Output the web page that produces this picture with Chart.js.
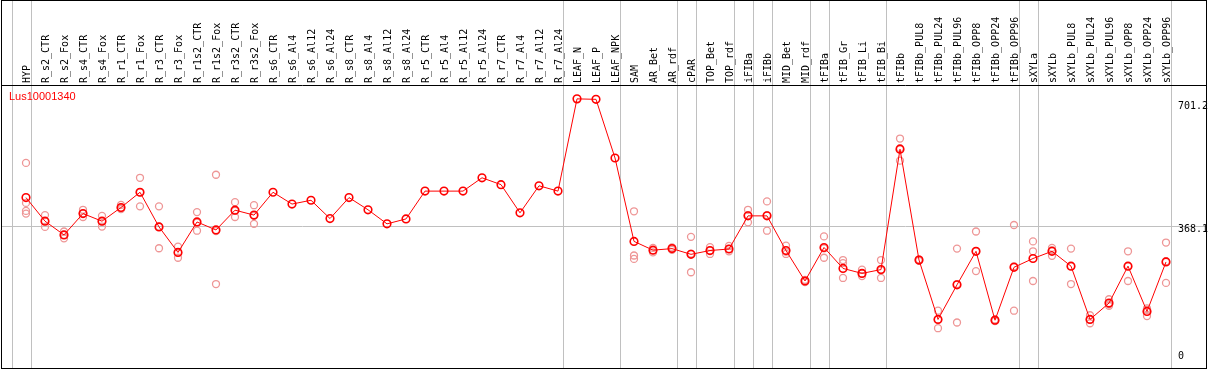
<!DOCTYPE html>
<html>
<head>
<meta charset="utf-8">
<script src="https://cdn.jsdelivr.net/npm/chart.js@4.4.1/dist/chart.umd.min.js"></script>
<style>
    html, body { margin: 0; padding: 0; background: #fff; overflow: hidden; }
    #contenedor { position: relative; width: 1209px; height: 370px; }
</style>
</head>
<body>
<div id="contenedor"><canvas id="lineChart"></canvas></div>
<script>
// Muestras (eje X)
const muestras = ['HYP', 'R_s2_CTR', 'R_s2_Fox', 'R_s4_CTR', 'R_s4_Fox', 'R_r1_CTR', 'R_r1_Fox', 'R_r3_CTR', 'R_r3_Fox',
    'R_r1s2_CTR', 'R_r1s2_Fox', 'R_r3s2_CTR', 'R_r3s2_Fox', 'R_s6_CTR', 'R_s6_Al4', 'R_s6_Al12', 'R_s6_Al24',
    'R_s8_CTR', 'R_s8_Al4', 'R_s8_Al12', 'R_s8_Al24', 'R_r5_CTR', 'R_r5_Al4', 'R_r5_Al12', 'R_r5_Al24',
    'R_r7_CTR', 'R_r7_Al4', 'R_r7_Al12', 'R_r7_Al24', 'LEAF_N', 'LEAF_P', 'LEAF_NPK', 'SAM', 'AR_Bet', 'AR_rdf',
    'cPAR', 'TOP_Bet', 'TOP_rdf', 'iFIBa', 'iFIBb', 'MID_Bet', 'MID_rdf', 'tFIBa', 'tFIB_Gr', 'tFIB_Li', 'tFIB_Bi',
    'tFIBb', 'tFIBb_PUL8', 'tFIBb_PUL24', 'tFIBb_PUL96', 'tFIBb_OPP8', 'tFIBb_OPP24', 'tFIBb_OPP96',
    'sXYLa', 'sXYLb', 'sXYLb_PUL8', 'sXYLb_PUL24', 'sXYLb_PUL96', 'sXYLb_OPP8', 'sXYLb_OPP24', 'sXYLb_OPP96'];

// Promedio de expresion
const promedio = [442, 380, 344, 400, 380, 416, 456, 365, 298, 378, 357, 409, 396, 456, 425, 435, 387,
    442, 410, 373, 386, 459, 459, 459, 494, 476, 402, 473, 459, 701.2, 700, 546, 327, 304, 308,
    293, 303, 307, 394, 394, 303, 223, 311, 256, 243, 253, 569, 278, 122, 213, 301, 120, 259,
    282, 301, 262, 122, 165, 262, 143, 273];

// Replicas
const replica1 = [533, 396, 353, 410, 394, 423, 494, 419, 313, 404, 502, 430, 422, null, null, null, null,
    null, null, null, null, null, null, null, null, null, null, null, null, null, null, null, 406, 310, 311,
    339, 312, 315, 410, 432, 316, 226, 340, 278, 253, 278, 597, 280, 145, 308, 353, 122, 370,
    327, 310, 308, 133, 175, 301, 151, 324];
const replica2 = [407, 380, 344, 400, 380, 414, 456, 366, 298, 376, 354, 407, 394, null, null, null, null,
    null, null, null, null, null, null, null, null, null, null, null, null, null, null, null, 290, 304, 308,
    295, 303, 307, 396, 396, 300, 223, 309, 270, 243, 251, 572, 278, 122, 215, 301, 120, 262,
    301, 304, 262, 122, 162, 262, 147, 275];
const replica3 = [400, 365, 335, 391, 366, 412, 419, 309, 284, 355, 215, 391, 373, null, null, null, null,
    null, null, null, null, null, null, null, null, null, null, null, null, null, null, null, 281, 298, 305,
    246, 294, 301, 377, 355, 294, 220, 284, 231, 236, 231, 539, 276, 99, 114, 249, 118, 145,
    223, 289, 215, 112, 158, 223, 131, 218];
const replica4 = [428];

// Indices de la ultima muestra de cada grupo (lineas grises)
const finDeGrupo = [-1, 0, 28, 31, 34, 35, 37, 38, 39, 41, 42, 45, 52, 53, 60];
// Marcas del eje derecho
const marcasY = [0, 368.1, 701.2];
const nombreGen = 'Lus10001340';

// Lineas grises, marco negro y textos
const marcoPlugin = {
    id: 'marco',
    beforeDatasetsDraw(chart) {
        const ctx = chart.ctx;
        const x = chart.scales.x;
        const y = chart.scales.y;
        ctx.save();
        ctx.strokeStyle = '#c0c0c0';
        ctx.lineWidth = 1;
        finDeGrupo.forEach(i => {
            const px = Math.round(x.getPixelForValue(0) + 19 * i + 4.5) + 0.5;
            ctx.beginPath();
            ctx.moveTo(px, 0);
            ctx.lineTo(px, 369);
            ctx.stroke();
        });
        const py = Math.round(y.getPixelForValue(368.1)) + 0.5;
        ctx.beginPath();
        ctx.moveTo(1, py);
        ctx.lineTo(1207, py);
        ctx.stroke();
        ctx.restore();
    },
    afterDraw(chart) {
        const ctx = chart.ctx;
        const y = chart.scales.y;
        ctx.save();
        ctx.strokeStyle = '#000';
        ctx.lineWidth = 1;
        ctx.strokeRect(1.5, 0.5, 1205, 368);
        ctx.beginPath();
        ctx.moveTo(1, 85.5);
        ctx.lineTo(1207, 85.5);
        ctx.stroke();

        ctx.fillStyle = '#000';
        ctx.font = '10px "DejaVu Sans Mono"';
        ctx.textBaseline = 'middle';
        ctx.textAlign = 'left';
        marcasY.forEach(v => {
            let py = y.getPixelForValue(v) + 4;
            if (v === 701.2) py += 4;
            py = Math.min(py, chart.chartArea.bottom - 8);
            ctx.fillText(String(v), 1178, py);
        });

        ctx.fillStyle = '#ff0000';
        ctx.font = '11px "Liberation Sans"';
        ctx.fillText(nombreGen, 9, 97);
        ctx.restore();
    }
};

const colorReplica = 'rgb(238, 150, 150)';
function datosReplica(arr, nombre) {
    return {
        label: nombre,
        data: arr,
        showLine: false,
        borderColor: colorReplica,
        backgroundColor: 'rgba(0,0,0,0)',
        pointRadius: 3.5,
        pointBorderWidth: 1.3,
        order: 2
    };
}

const canvas = document.getElementById('lineChart');
new Chart(canvas, {
    type: 'line',
    data: {
        labels: muestras,
        datasets: [
            {
                label: nombreGen,
                data: promedio,
                borderColor: '#ff0000',
                backgroundColor: 'rgba(0,0,0,0)',
                borderWidth: 1,
                pointRadius: 3.8,
                pointBorderWidth: 1.6,
                tension: 0,
                order: 1
            },
            datosReplica(replica1, 'rep1'),
            datosReplica(replica2, 'rep2'),
            datosReplica(replica3, 'rep3'),
            datosReplica(replica4, 'rep4')
        ]
    },
    options: {
        responsive: true,
        maintainAspectRatio: false,
        animation: false,
        layout: {
            padding: { left: 16.5, right: 33.5, top: 0, bottom: 1 }
        },
        scales: {
            x: {
                type: 'category',
                position: 'top',
                offset: true,
                grid: { display: false, drawTicks: false },
                border: { display: false },
                ticks: {
                    autoSkip: false,
                    minRotation: 90,
                    maxRotation: 90,
                    padding: 3,
                    labelOffset: 13,
                    color: '#000',
                    font: { family: 'DejaVu Sans Mono', size: 10 }
                },
                afterFit: (scale) => { scale.height = 86; }
            },
            y: {
                display: false,
                min: 4,
                max: 735
            }
        },
        plugins: {
            legend: { display: false },
            tooltip: { enabled: false }
        }
    },
    plugins: [marcoPlugin]
});
</script>
</body>
</html>
